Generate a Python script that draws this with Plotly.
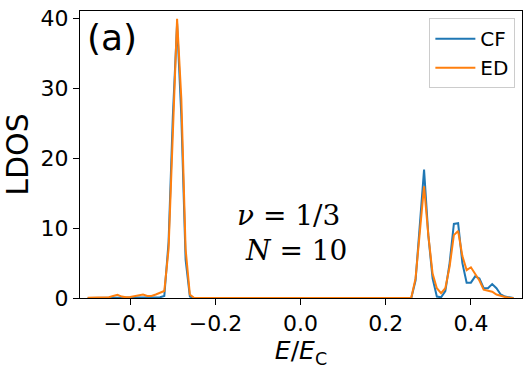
import numpy as np
import plotly.graph_objects as go

# energy grid E/E_C
energy = np.round(np.arange(-0.50, 0.5001, 0.01), 2).tolist()

# LDOS values, one per grid point (-0.50 .. 0.50)
ldos_cf = [
    0.0, 0.0, 0.0, 0.0, 0.0, 0.0, 0.0, 0.0, 0.0, 0.0,        # -0.50 .. -0.41
    0.0, 0.0, 0.0, 0.0, 0.0, 0.0, 0.05, 0.1, 0.3, 8.0,       # -0.40 .. -0.31
    26.0, 39.3, 26.0, 5.5, 0.2, 0.0, 0.0, 0.0, 0.0, 0.0,     # -0.30 .. -0.21
    0.0, 0.0, 0.0, 0.0, 0.0, 0.0, 0.0, 0.0, 0.0, 0.0,        # -0.20 .. -0.11
    0.0, 0.0, 0.0, 0.0, 0.0, 0.0, 0.0, 0.0, 0.0, 0.0,        # -0.10 .. -0.01
    0.0, 0.0, 0.0, 0.0, 0.0, 0.0, 0.0, 0.0, 0.0, 0.0,        # 0.00 .. 0.09
    0.0, 0.0, 0.0, 0.0, 0.0, 0.0, 0.0, 0.0, 0.0, 0.0,        # 0.10 .. 0.19
    0.0, 0.0, 0.0, 0.0, 0.0, 0.0, 0.0, 2.5, 10.0, 18.4,      # 0.20 .. 0.29
    9.0, 2.8, 0.2, 0.1, 1.0, 5.0, 10.6, 10.7, 5.0, 2.2,      # 0.30 .. 0.39
    2.2, 3.1, 2.8, 1.4, 1.4, 2.0, 1.4, 0.5, 0.2, 0.05,       # 0.40 .. 0.49
    0.0,                                                     # 0.50
]
ldos_ed = [
    0.05, 0.05, 0.05, 0.05, 0.05, 0.1, 0.3, 0.45, 0.2, 0.1,  # -0.50 .. -0.41
    0.15, 0.25, 0.35, 0.5, 0.3, 0.3, 0.5, 0.7, 1.0, 7.0,     # -0.40 .. -0.31
    24.0, 40.0, 28.5, 7.0, 0.5, 0.0, 0.0, 0.0, 0.0, 0.0,     # -0.30 .. -0.21
    0.0, 0.0, 0.0, 0.0, 0.0, 0.0, 0.0, 0.0, 0.0, 0.0,        # -0.20 .. -0.11
    0.0, 0.0, 0.0, 0.0, 0.0, 0.0, 0.0, 0.0, 0.0, 0.0,        # -0.10 .. -0.01
    0.0, 0.0, 0.0, 0.0, 0.0, 0.0, 0.0, 0.0, 0.0, 0.0,        # 0.00 .. 0.09
    0.0, 0.0, 0.0, 0.0, 0.0, 0.0, 0.0, 0.0, 0.0, 0.0,        # 0.10 .. 0.19
    0.0, 0.0, 0.0, 0.0, 0.0, 0.0, 0.05, 2.8, 10.0, 16.0,     # 0.20 .. 0.29
    9.0, 3.5, 1.4, 0.7, 1.4, 4.5, 9.0, 9.6, 6.0, 4.0,        # 0.30 .. 0.39
    4.4, 3.5, 2.5, 1.2, 1.1, 0.9, 0.5, 0.3, 0.15, 0.05,      # 0.40 .. 0.49
    0.0,                                                     # 0.50
]

fig = go.Figure()
fig.add_trace(go.Scatter(x=energy, y=ldos_cf, mode="lines", name="CF",
                         line=dict(color="#1f77b4", width=2)))
fig.add_trace(go.Scatter(x=energy, y=ldos_ed, mode="lines", name="ED",
                         line=dict(color="#ff7f0e", width=2)))

axis_style = dict(showgrid=False, zeroline=False, showline=True, mirror=True,
                  linecolor="black", linewidth=1, ticks="outside", ticklen=6,
                  tickcolor="black", automargin=False, ticklabeloverflow="allow",
                  tickfont=dict(size=22, color="black"))

fig.update_xaxes(range=[-0.518, 0.52], tickvals=[-0.4, -0.2, 0.0, 0.2, 0.4],
                 tickformat=".1f",
                 title=dict(text="<i>E</i>/<i>E</i><sub>C</sub>", standoff=2,
                            font=dict(size=25, color="black")),
                 **axis_style)
fig.update_yaxes(range=[0, 41.1], tickvals=[0, 10, 20, 30, 40],
                 title=dict(text="LDOS", standoff=6,
                            font=dict(size=30, color="black")),
                 **axis_style)

fig.update_layout(
    width=532, height=372,
    margin=dict(l=80, r=10, t=11, b=74),
    plot_bgcolor="white", paper_bgcolor="white",
    font=dict(family="DejaVu Sans", color="black"),
    legend=dict(x=0.985, y=0.975, xanchor="right", yanchor="top",
                bgcolor="rgba(255,255,255,0.8)", bordercolor="#cccccc",
                borderwidth=1, font=dict(size=20), itemwidth=40),
    annotations=[
        dict(text="(a)", xref="paper", yref="paper", x=0.012, y=0.906,
             xanchor="left", yanchor="middle", showarrow=False,
             font=dict(size=36, color="black")),
        dict(text="<i>ν</i> = 1/3", xref="paper", yref="paper", x=0.471, y=0.289,
             xanchor="center", yanchor="middle", showarrow=False,
             font=dict(family="DejaVu Serif", size=28, color="black")),
        dict(text="<i>N</i> = 10", xref="paper", yref="paper", x=0.489, y=0.167,
             xanchor="center", yanchor="middle", showarrow=False,
             font=dict(family="DejaVu Serif", size=28, color="black")),
    ],
)

# drop the default 8px body margin so the figure fills the window exactly
fig.write_html("out.html", config={"displayModeBar": False},
               post_script="document.body.style.margin = '0';")
